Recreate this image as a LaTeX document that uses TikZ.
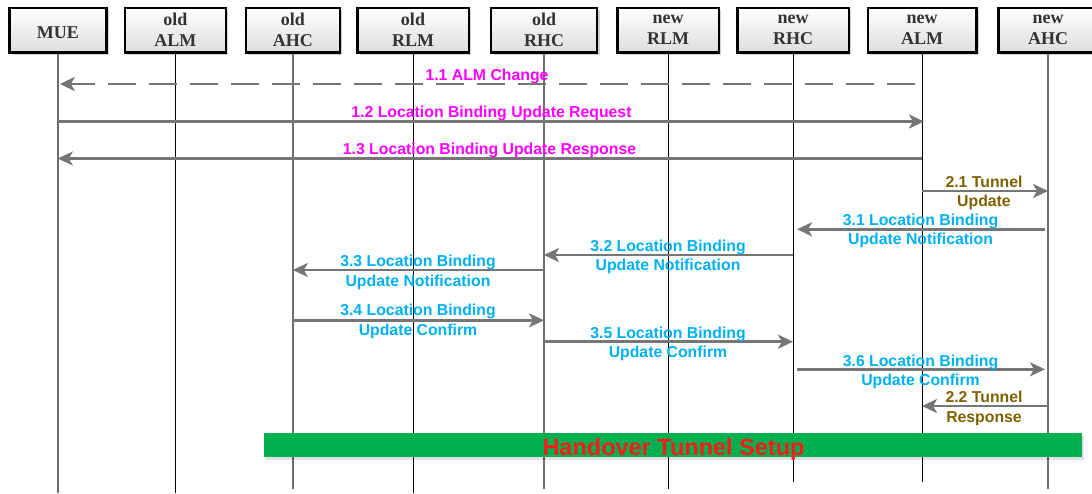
\documentclass[tikz,border=0pt]{standalone}
\usepackage{fontspec}
\setmainfont{Liberation Serif}
\setsansfont{Liberation Sans}
\usetikzlibrary{arrows.meta,shadows}

\definecolor{msggrey}{HTML}{767676}
\definecolor{lifegrey}{HTML}{6E6E6E}
\definecolor{phaseone}{HTML}{FF00FF}
\definecolor{phasetwo}{HTML}{7F6000}
\definecolor{phasethree}{HTML}{00B0F0}
\definecolor{setupgreen}{HTML}{00B050}
\definecolor{setupred}{HTML}{FF1A1A}

\begin{document}
\begin{tikzpicture}[x=1pt,y=-1pt,
  entity/.style={draw=black, line width=2.5pt, top color=white, bottom color=black!13,
    minimum height=44.5pt, inner sep=0pt, align=center, text=black!80,
    font=\fontsize{18}{20.7}\selectfont\bfseries,
    drop shadow={shadow xshift=2.5pt, shadow yshift=-2.5pt, opacity=0.18, fill=black}},
  lifethin/.style={draw=black, line width=0.9pt},
  lifethick/.style={draw=lifegrey, line width=1.5pt},
  msg/.style={draw=msggrey, line width=2.6pt, -{Stealth[length=15pt,width=14pt,inset=4pt]}},
  msgdash/.style={msg, dash pattern=on 28pt off 13pt},
  lbl/.style={inner sep=0pt, align=center, font=\sffamily\bfseries\fontsize{15.8}{19.5}\selectfont},
]
\useasboundingbox (0,0) rectangle (1092,493);

% participants
\node[entity, minimum width=97pt, text height=18pt] (mue) at (57.8,30) {MUE};
\node[entity, minimum width=101pt]   (oalm) at (175.3,30) {old\\ALM};
\node[entity, minimum width=94pt]    (oahc) at (292.8,30) {old\\AHC};
\node[entity, minimum width=111.5pt] (orlm) at (413,30)   {old\\RLM};
\node[entity, minimum width=106pt]   (orhc) at (544,30)   {old\\RHC};
\node[entity, minimum width=101.5pt] (nrlm) at (668,30)   {new\\RLM};
\node[entity, minimum width=111.5pt] (nrhc) at (793,30)   {new\\RHC};
\node[entity, minimum width=108.5pt] (nalm) at (922,30)   {new\\ALM};
\node[entity, minimum width=99.5pt]  (nahc) at (1048,30)  {new\\AHC};

% lifelines
\coordinate (lowA) at (0,493);
\coordinate (lowB) at (0,489);
\coordinate (lowC) at (0,482);
\draw[lifethick] (mue.south)  -- (mue.south |- lowA);
\draw[lifethin]  (oalm.south) -- (oalm.south |- lowA);
\draw[lifethick] (oahc.south) -- (oahc.south |- lowB);
\draw[lifethin]  (orlm.south) -- (orlm.south |- lowA);
\draw[lifethick] (orhc.south) -- (orhc.south |- lowB);
\draw[lifethin]  (nrlm.south) -- (nrlm.south |- lowB);
\draw[lifethin]  (nrhc.south) -- (nrhc.south |- lowC);
\draw[lifethin]  (nalm.south) -- (nalm.south |- lowC);
\draw[lifethick] (nahc.south) -- (nahc.south |- lowB);

% message rows
\coordinate (r11) at (0,84);
\coordinate (r12) at (0,121.5);
\coordinate (r13) at (0,158.5);
\coordinate (r21) at (0,191);
\coordinate (r31) at (0,229.3);
\coordinate (r32) at (0,255);
\coordinate (r33) at (0,270);
\coordinate (r34) at (0,320.3);
\coordinate (r35) at (0,341.7);
\coordinate (r36) at (0,369.3);
\coordinate (r22) at (0,406);

% messages
\draw[msgdash, shorten <=7pt, shorten >=2pt] (nalm.south |- r11) -- (mue.south |- r11);
\draw[msg, shorten >=-2pt] (mue.south |- r12) -- (nalm.south |- r12);
\draw[msg] (nalm.south |- r13) -- (mue.south |- r13);
\draw[msg] (nalm.south |- r21) -- (nahc.south |- r21);
\draw[msg, shorten <=3pt, shorten >=4pt] (nahc.south |- r31) -- (nrhc.south |- r31);
\draw[msg] (nrhc.south |- r32) -- (orhc.south |- r32);
\draw[msg] (orhc.south |- r33) -- (oahc.south |- r33);
\draw[msg] (oahc.south |- r34) -- (orhc.south |- r34);
\draw[msg] (orhc.south |- r35) -- (nrhc.south |- r35);
\draw[msg, shorten <=4pt, shorten >=3pt] (nrhc.south |- r36) -- (nahc.south |- r36);
\draw[msg] (nahc.south |- r22) -- (nalm.south |- r22);

% message labels
\node[lbl, anchor=base, text=phaseone] (l11) at (487,80)    {1.1 ALM Change};
\node[lbl, anchor=base, text=phaseone] (l12) at (491.5,117) {1.2 Location Binding Update Request};
\node[lbl, anchor=base, text=phaseone] (l13) at (489.5,154) {1.3 Location Binding Update Response};
\node[lbl, text=phasetwo]   (l21) at (984,193)    {2.1 Tunnel\\Update};
\node[lbl, text=phasethree] (l31) at (920.5,231)  {3.1 Location Binding\\Update Notification};
\node[lbl, text=phasethree] (l32) at (668,256.7)  {3.2 Location Binding\\Update Notification};
\node[lbl, text=phasethree] (l33) at (418,272.3)  {3.3 Location Binding\\Update Notification};
\node[lbl, text=phasethree] (l34) at (418,321.6)  {3.4 Location Binding\\Update Confirm};
\node[lbl, text=phasethree] (l35) at (668,344)    {3.5 Location Binding\\Update Confirm};
\node[lbl, text=phasethree] (l36) at (920.5,372)  {3.6 Location Binding\\Update Confirm};
\node[lbl, text=phasetwo]   (l22) at (984,408.2)  {2.2 Tunnel\\Response};

% handover tunnel setup phase
\node[fill=setupgreen, minimum width=818pt, minimum height=24pt, inner sep=0pt,
      drop shadow={shadow xshift=1.5pt, shadow yshift=-2.5pt, opacity=0.12, fill=black}]
      (setup) at (673,445) {};
\node[anchor=base, inner sep=0pt, text=setupred,
      font=\sffamily\bfseries\fontsize{23.5}{28}\selectfont] (setuptext) at (673.5,455)
      {Handover Tunnel Setup};
\end{tikzpicture}
\end{document}
